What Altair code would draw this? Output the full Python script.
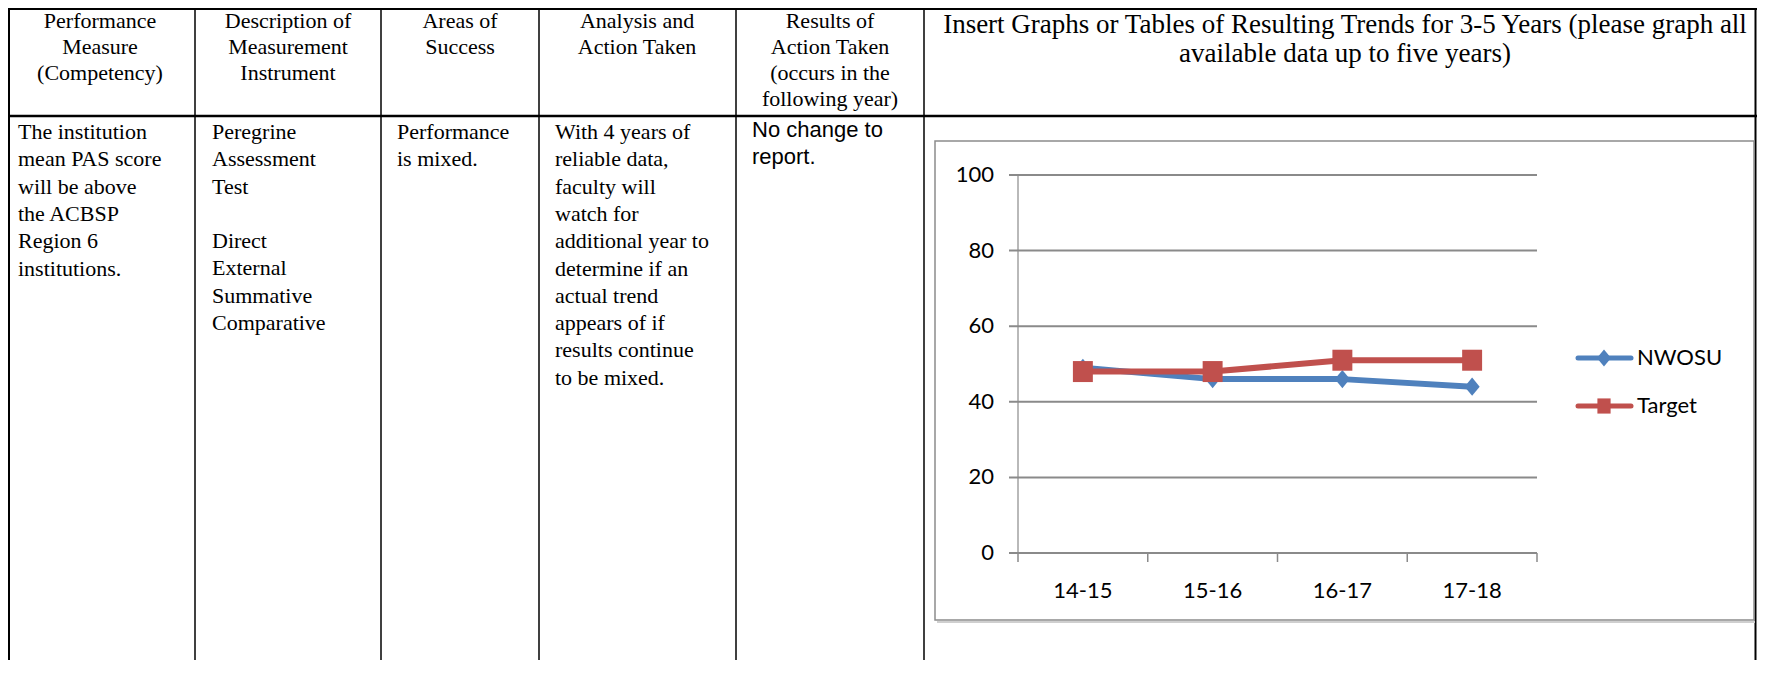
import altair as alt
import pandas as pd

OFF = 8
def px(v):
    return v - OFF

# ---------------- data ----------------
years = ["14-15", "15-16", "16-17", "17-18"]
nwosu = [49, 46, 46, 44]
target = [48, 48, 51, 51]
series = ["NWOSU", "Target"]
series_values = [nwosu, target]
colors = ["#4F81BD", "#C0504D"]
y_ticks = [0, 20, 40, 60, 80, 100]

header_texts = [
    ["Performance", "Measure", "(Competency)"],
    ["Description of", "Measurement", "Instrument"],
    ["Areas of", "Success"],
    ["Analysis and", "Action Taken"],
    ["Results of", "Action Taken", "(occurs in the", "following year)"],
]
graph_header = ["Insert Graphs or Tables of Resulting Trends for 3-5 Years (please graph all",
                "available data up to five years)"]
body_texts = [
    ["The institution", "mean PAS score", "will be above", "the ACBSP", "Region 6", "institutions."],
    ["Peregrine", "Assessment", "Test", "", "Direct", "External", "Summative", "Comparative"],
    ["Performance", "is mixed."],
    ["With 4 years of", "reliable data,", "faculty will", "watch for", "additional year to",
     "determine if an", "actual trend", "appears of if", "results continue", "to be mixed."],
    ["No change to", "report."],
]

# ---------------- layout ----------------
W, H = 1749, 652
col_lines = [195, 381, 539, 736, 924]
header_cx = [100, 288, 460, 637, 830]
body_x = [18, 212, 397, 555, 752]
body_fonts = ["Liberation Serif"] * 4 + ["Liberation Sans"]
FS = 22
HEAD_LH = 26
BODY_LH = 27.3

dummy = pd.DataFrame({"d": [0]})
layers = []

def hrule(y, x1, x2, color="black", sw=1.5):
    return alt.Chart(dummy).mark_rule(color=color, strokeWidth=sw).encode(
        x=alt.value(x1), x2=alt.value(x2), y=alt.value(y))

def vrule(x, y1, y2, color="black", sw=1.5):
    return alt.Chart(dummy).mark_rule(color=color, strokeWidth=sw).encode(
        x=alt.value(x), y=alt.value(y1), y2=alt.value(y2))

# table borders
layers.append(hrule(1, 0, W, sw=2))
layers.append(vrule(1, 0, H, sw=2))
layers.append(hrule(px(116), 0, W, sw=2.5))
for cx in col_lines:
    layers.append(vrule(px(cx), 0, H, sw=1.5))
layers.append(vrule(W - 1.5, 0, H, sw=2))

# header text
for cx, lines in zip(header_cx, header_texts):
    layers.append(alt.Chart(dummy).mark_text(
        font="Liberation Serif", fontSize=FS, align="center", baseline="alphabetic",
        lineHeight=HEAD_LH, color="black").encode(
        x=alt.value(px(cx)), y=alt.value(px(28)), text=alt.value(lines)))
layers.append(alt.Chart(dummy).mark_text(
    font="Liberation Serif", fontSize=27, align="center", baseline="alphabetic",
    lineHeight=29, color="black").encode(
    x=alt.value(px(1345)), y=alt.value(px(33)), text=alt.value(graph_header)))

# body text (blank lines split a cell into separate blocks)
for bx, lines, fnt in zip(body_x, body_texts, body_fonts):
    first = 139 if fnt != "Liberation Sans" else 137
    blocks, start, cur = [], 0, []
    for i, ln in enumerate(lines):
        if ln == "":
            if cur:
                blocks.append((start, cur))
            cur = []
            start = i + 1
        else:
            if not cur:
                start = i
            cur.append(ln)
    if cur:
        blocks.append((start, cur))
    for start, blk in blocks:
        layers.append(alt.Chart(dummy).mark_text(
            font=fnt, fontSize=FS, align="left", baseline="alphabetic",
            lineHeight=BODY_LH, color="black").encode(
            x=alt.value(px(bx)), y=alt.value(px(first + start * BODY_LH)),
            text=alt.value(blk)))

# chart box
layers.append(hrule(px(622), px(937), px(1755), color="#cfcfcf", sw=2))
layers.append(alt.Chart(dummy).mark_rect(fill="white", stroke="#8c8c8c", strokeWidth=1.5).encode(
    x=alt.value(px(935)), x2=alt.value(px(1754)), y=alt.value(px(141)), y2=alt.value(px(620))))

xscale = alt.Scale(type="band", domain=years, range=[px(1018), px(1537)], paddingInner=0, paddingOuter=0)
yscale = alt.Scale(domain=[0, 100], range=[px(553), px(175)], nice=False, zero=True)

CH_FONT = "Lato"
CH_FS = 22
GRID = "#8a8a8a"

# gridlines (with left tick)
grid_df = pd.DataFrame({"v": y_ticks})
layers.append(alt.Chart(grid_df).mark_rule(color=GRID, strokeWidth=2).encode(
    y=alt.Y("v:Q", scale=yscale, axis=None),
    x=alt.value(px(1009)), x2=alt.value(px(1537))))
# y labels
layers.append(alt.Chart(grid_df).mark_text(
    font=CH_FONT, fontSize=CH_FS, align="right", baseline="middle", color="black").encode(
    y=alt.Y("v:Q", scale=yscale, axis=None), x=alt.value(px(994)), text="v:Q"))
# y axis line
layers.append(alt.Chart(pd.DataFrame({"a": [0], "b": [100]})).mark_rule(color=GRID, strokeWidth=1.2).encode(
    y=alt.Y("a:Q", scale=yscale, axis=None), y2="b:Q", x=alt.value(px(1018))))

# x ticks at category boundaries
yr_df = pd.DataFrame({"year": years})
layers.append(alt.Chart(yr_df).mark_rule(color=GRID, strokeWidth=1.5).encode(
    x=alt.X("year:N", scale=xscale, bandPosition=0, axis=None),
    y=alt.value(px(553)), y2=alt.value(px(562))))
layers.append(alt.Chart(pd.DataFrame({"year": years[-1:]})).mark_rule(color=GRID, strokeWidth=1.5).encode(
    x=alt.X("year:N", scale=xscale, bandPosition=1, axis=None),
    y=alt.value(px(553)), y2=alt.value(px(562))))
# x labels
layers.append(alt.Chart(yr_df).mark_text(
    font=CH_FONT, fontSize=CH_FS, align="center", baseline="middle", color="black").encode(
    x=alt.X("year:N", scale=xscale, bandPosition=0.5, axis=None),
    y=alt.value(px(591)), text="year:N"))

diamond = "M0,-1L0.83,0L0,1L-0.83,0Z"
square = "M-0.95,-1L0.95,-1L0.95,1L-0.95,1Z"
square_leg = "M-0.87,-1L0.87,-1L0.87,1L-0.87,1Z"
shapes = [diamond, square]
leg_shapes = [diamond, square_leg]
sizes = [330, 441]
leg_sizes = [290, 230]
legend_y = [358, 406]

for name, vals, col, shp, lshp, sz, lsz, ly in zip(series, series_values, colors, shapes,
                                                     leg_shapes, sizes, leg_sizes, legend_y):
    df = pd.DataFrame({"year": years, "value": vals, "series": name})
    enc = dict(
        x=alt.X("year:N", scale=xscale, bandPosition=0.5, axis=None),
        y=alt.Y("value:Q", scale=yscale, axis=None),
    )
    layers.append(alt.Chart(df).mark_line(color=col, strokeWidth=6, strokeCap="round",
                                          strokeJoin="round").encode(**enc))
    layers.append(alt.Chart(df).mark_point(shape=shp, size=sz, filled=True, color=col,
                                           opacity=1).encode(**enc))
    # legend entry
    ldf = pd.DataFrame({"series": [name]})
    layers.append(alt.Chart(ldf).mark_rule(color=col, strokeWidth=5, strokeCap="round").encode(
        x=alt.value(px(1578)), x2=alt.value(px(1631)), y=alt.value(px(ly))))
    layers.append(alt.Chart(ldf).mark_point(shape=lshp, size=lsz, filled=True, color=col,
                                            opacity=1).encode(
        x=alt.value(px(1604)), y=alt.value(px(ly))))
    layers.append(alt.Chart(ldf).mark_text(font=CH_FONT, fontSize=CH_FS, align="left",
                                           baseline="middle", color="black").encode(
        x=alt.value(px(1637)), y=alt.value(px(ly)), text="series:N"))

chart = alt.layer(*layers).properties(
    width=W, height=H, autosize=alt.AutoSizeParams(type="none"), padding=0
).configure_view(stroke=None).configure(background="white")

chart.save("out.html", embed_options={"renderer": "svg", "actions": False})
